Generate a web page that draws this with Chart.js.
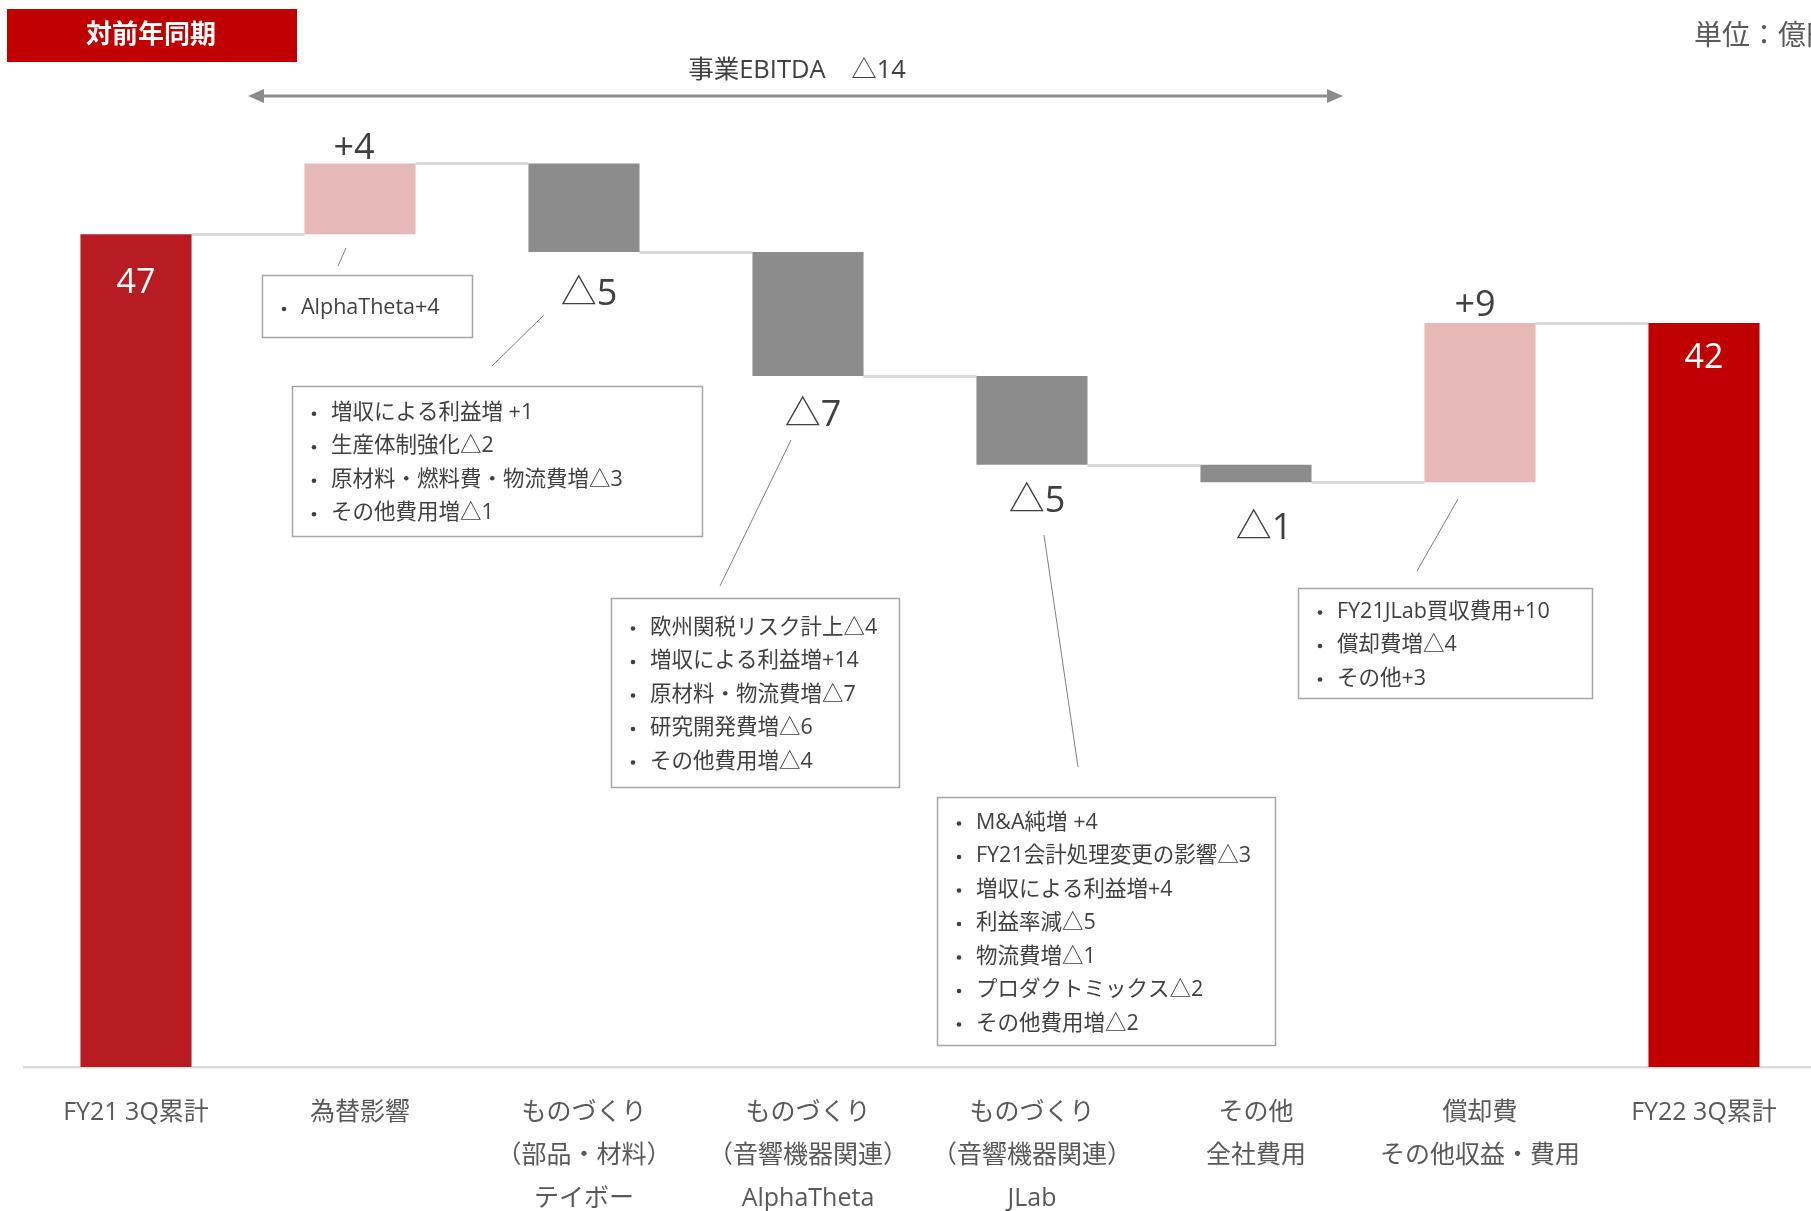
<!DOCTYPE html>
<html lang="ja">
<head>
<meta charset="utf-8">
<title>対前年同期 事業EBITDA</title>
<script src="https://cdn.jsdelivr.net/npm/chart.js@4.4.1/dist/chart.umd.min.js"></script>
<style>
  html, body { margin: 0; padding: 0; background: #fff; overflow: hidden; }
  #wrap { width: 1816px; height: 1211px; }
</style>
</head>
<body>
<div id="wrap"><canvas id="ebitdaChart" width="1816" height="1211"></canvas></div>
<script>
// x axis categories (multi-line)
const categories = [
  ['FY21 3Q累計'],
  ['為替影響'],
  ['ものづくり', '（部品・材料）', 'テイボー'],
  ['ものづくり', '（音響機器関連）', 'AlphaTheta'],
  ['ものづくり', '（音響機器関連）', 'JLab'],
  ['その他', '全社費用'],
  ['償却費', 'その他収益・費用'],
  ['FY22 3Q累計']
];
// values (億円)
const startValue = 47;
const deltas = [4, -5, -7, -5, -1, 9];
const endValue = 42;
const ebitdaChange = -14;

// explanation boxes, one per delta bar
const notesFx = ['AlphaTheta+4'];
const notesTeibow = ['増収による利益増 +1', '生産体制強化△2', '原材料・燃料費・物流費増△3', 'その他費用増△1'];
const notesAlphaTheta = ['欧州関税リスク計上△4', '増収による利益増+14', '原材料・物流費増△7', '研究開発費増△6', 'その他費用増△4'];
const notesJLab = ['M&A純増 +4', 'FY21会計処理変更の影響△3', '増収による利益増+4', '利益率減△5', '物流費増△1', 'プロダクトミックス△2', 'その他費用増△2'];
const notesDep = ['FY21JLab買収費用+10', '償却費増△4', 'その他+3'];

const FONT = "'Open Sans', 'Noto Sans CJK JP', sans-serif";

function fmtDelta(v) {
  return v < 0 ? '△' + (-v) : '+' + v;
}

// build floating bars from the values
const barData = [[0, startValue]];
const levels = [startValue];
let running = startValue;
deltas.forEach(d => {
  barData.push([running, running + d]);
  running += d;
  levels.push(running);
});
barData.push([0, endValue]);
const valueLabels = [String(startValue)].concat(deltas.map(fmtDelta), [String(endValue)]);

const barColors = barData.map((r, i) => {
  if (i === 0) return '#B71C23';
  if (i === barData.length - 1) return '#C00000';
  return deltas[i - 1] > 0 ? '#E6B8B7' : '#8C8C8C';
});

// label placement per bar: [dx, dy from bar edge]
const labelShift = [[0, 49], [-6, -15], [5, 43], [5, 40], [5, 37], [8, 46], [-5, -17], [0, 35]];

// note boxes
const noteBoxes = [
  { lines: notesFx, x: 262, y: 275, w: 210, h: 62, lead: [346, 248, 338, 266] },
  { lines: notesTeibow, x: 292, y: 386, w: 410, h: 150, lead: [544, 315, 492, 366] },
  { lines: notesAlphaTheta, x: 611, y: 598, w: 288, h: 189, lead: [791, 440, 720, 586] },
  { lines: notesJLab, x: 937, y: 797, w: 338, h: 248, lead: [1044, 535, 1078, 767] },
  { lines: notesDep, x: 1298, y: 588, w: 294, h: 110, lead: [1458, 499, 1417, 571] }
];

const waterfallDecor = {
  id: 'waterfallDecor',
  beforeDatasetsDraw(chart) {
    const ctx = chart.ctx;
    const meta = chart.getDatasetMeta(0);
    const y = chart.scales.y;
    // connector lines between bars
    ctx.save();
    ctx.strokeStyle = '#D9D9D9';
    ctx.lineWidth = 3;
    for (let i = 0; i < meta.data.length - 1; i++) {
      const a = meta.data[i], b = meta.data[i + 1];
      const py = Math.round(y.getPixelForValue(levels[i])) + 0.5;
      ctx.beginPath();
      ctx.moveTo(a.x + a.width / 2, py);
      ctx.lineTo(b.x - b.width / 2, py);
      ctx.stroke();
    }
    ctx.restore();
  },
  afterDatasetsDraw(chart) {
    const ctx = chart.ctx;
    const meta = chart.getDatasetMeta(0);
    const y = chart.scales.y;
    ctx.save();
    ctx.textAlign = 'center';
    ctx.textBaseline = 'middle';

    // value labels
    meta.data.forEach((bar, i) => {
      const r = barData[i];
      const hi = Math.max(r[0], r[1]), lo = Math.min(r[0], r[1]);
      const [dx, dy] = labelShift[i];
      if (i === 0 || i === meta.data.length - 1) {
        ctx.fillStyle = '#FFFFFF';
        ctx.font = '34px ' + FONT;
        ctx.fillText(valueLabels[i], bar.x + dx, y.getPixelForValue(hi) + dy);
      } else {
        ctx.fillStyle = '#404040';
        ctx.font = '36px ' + FONT;
        const edge = deltas[i - 1] > 0 ? hi : lo;
        ctx.fillText(valueLabels[i], bar.x + dx, y.getPixelForValue(edge) + dy);
      }
    });

    // header box
    ctx.fillStyle = '#C00000';
    ctx.fillRect(7, 9, 290, 53);
    ctx.fillStyle = '#FFFFFF';
    ctx.font = 'bold 26px ' + FONT;
    ctx.fillText('対前年同期', 151, 36);

    // unit
    ctx.textAlign = 'left';
    ctx.fillStyle = '#595959';
    ctx.font = '28px ' + FONT;
    ctx.fillText('単位：億円', 1694, 37);

    // EBITDA arrow
    ctx.textAlign = 'center';
    ctx.fillStyle = '#404040';
    ctx.font = '25.5px ' + FONT;
    ctx.fillText('事業EBITDA　' + fmtDelta(ebitdaChange), 797, 71);
    const ax0 = 248, ax1 = 1343, ay = 96;
    ctx.strokeStyle = '#8C8C8C';
    ctx.fillStyle = '#8C8C8C';
    ctx.lineWidth = 3;
    ctx.beginPath();
    ctx.moveTo(ax0 + 10, ay);
    ctx.lineTo(ax1 - 10, ay);
    ctx.stroke();
    ctx.beginPath();
    ctx.moveTo(ax0, ay); ctx.lineTo(ax0 + 16, ay - 7); ctx.lineTo(ax0 + 16, ay + 7); ctx.closePath();
    ctx.fill();
    ctx.beginPath();
    ctx.moveTo(ax1, ay); ctx.lineTo(ax1 - 16, ay - 7); ctx.lineTo(ax1 - 16, ay + 7); ctx.closePath();
    ctx.fill();

    // note boxes with leader lines
    ctx.textAlign = 'left';
    noteBoxes.forEach(nb => {
      ctx.strokeStyle = '#7F7F7F';
      ctx.lineWidth = 1;
      ctx.beginPath();
      ctx.moveTo(nb.lead[0], nb.lead[1]);
      ctx.lineTo(nb.lead[2], nb.lead[3]);
      ctx.stroke();

      ctx.strokeStyle = '#A6A6A6';
      ctx.lineWidth = 1.5;
      ctx.strokeRect(nb.x + 0.5, nb.y + 0.5, nb.w, nb.h);

      const step = 33.5;
      const first = nb.y + nb.h / 2 - step * (nb.lines.length - 1) / 2 + 2;
      ctx.font = '21.5px ' + FONT;
      nb.lines.forEach((t, k) => {
        const ly = first + k * step;
        ctx.fillStyle = '#404040';
        ctx.beginPath();
        ctx.arc(nb.x + 22, ly + 1, 2.3, 0, Math.PI * 2);
        ctx.fill();
        ctx.fillText(t, nb.x + 39, ly);
      });
    });
    ctx.restore();
  }
};

const ctx = document.getElementById('ebitdaChart').getContext('2d');
new Chart(ctx, {
  type: 'bar',
  data: {
    labels: categories,
    datasets: [{
      data: barData,
      backgroundColor: barColors,
      borderWidth: 0,
      barPercentage: 0.496,
      categoryPercentage: 1.0
    }]
  },
  options: {
    responsive: false,
    devicePixelRatio: 1,
    animation: false,
    layout: { padding: { top: 4, left: 24, right: 0, bottom: 0 } },
    plugins: {
      legend: { display: false },
      tooltip: { enabled: false }
    },
    scales: {
      x: {
        grid: { display: false, drawTicks: false },
        border: { display: true, color: '#DDDDDD', width: 2.5 },
        ticks: {
          color: '#595959',
          font: { family: FONT, size: 25, lineHeight: 1.72 },
          padding: 24,
          maxRotation: 0,
          autoSkip: false
        },
        afterFit: (axis) => { axis.height = 144; }
      },
      y: {
        display: false,
        min: 0,
        max: 60
      }
    }
  },
  plugins: [waterfallDecor]
});
</script>
</body>
</html>
